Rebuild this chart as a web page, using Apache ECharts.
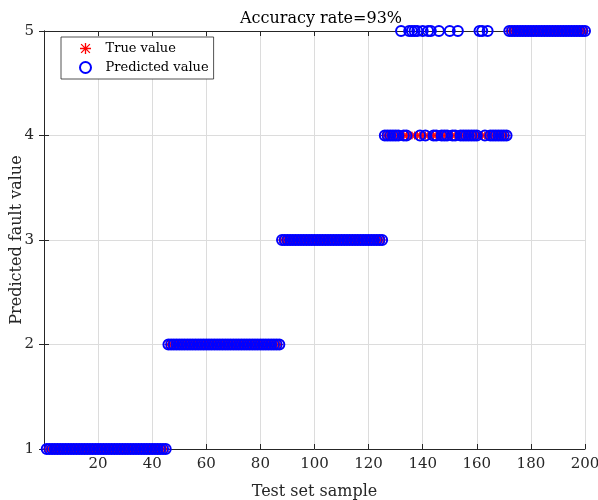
<!DOCTYPE html>
<html>
<head>
<meta charset="utf-8">
<script src="https://cdn.jsdelivr.net/npm/echarts@6/dist/echarts.min.js"></script>
<style>
  html, body { margin: 0; padding: 0; background: #fff; }
  #chart { width: 598px; height: 500px; }
</style>
</head>
<body>
<div id="chart"></div>
<script>
// ── Data ──────────────────────────────────────────────────────────────────
// true class of each test sample, as runs: [first sample, last sample, class]
const trueRuns = [
  [1, 45, 1],
  [46, 87, 2],
  [88, 125, 3],
  [126, 171, 4],
  [172, 200, 5],
];
// samples the classifier got wrong and what it predicted for them
const wrongSamples = [132, 135, 136, 137, 138, 140, 142, 143, 146, 150, 153, 161, 162, 164];
const wrongPred    = [5, 5, 5, 5, 5, 5, 5, 5, 5, 5, 5, 5, 5, 5];

const FONT = '"DejaVu Serif", "Liberation Serif", serif';
const AXIS_COLOR = '#262626';

// ── Build series ──────────────────────────────────────────────────────────
const trueData = [];
trueRuns.forEach(([a, b, c]) => {
  for (let s = a; s <= b; s++) trueData.push([s, c]);
});
const predData = trueData.map(([s, c]) => {
  const k = wrongSamples.indexOf(s);
  return [s, k >= 0 ? wrongPred[k] : c];
});

// asterisk made of four thin bars
const ASTERISK = 'path://M4.4 0H5.6V10H4.4Z M0 4.4H10V5.6H0Z M0.6 1.4L1.4 0.6L9.4 8.6L8.6 9.4Z M8.6 0.6L9.4 1.4L1.4 9.4L0.6 8.6Z';

const chart = echarts.init(document.getElementById('chart'));

const xBase = {
  type: 'value', min: 0, max: 200, interval: 20,
  axisLine: { show: true, lineStyle: { color: AXIS_COLOR, width: 1 } },
  axisTick: { show: true, inside: true, length: 5, lineStyle: { color: AXIS_COLOR } },
};
const yBase = {
  type: 'value', min: 1, max: 5, interval: 1,
  axisLine: { show: true, lineStyle: { color: AXIS_COLOR, width: 1 } },
  axisTick: { show: true, inside: true, length: 5, lineStyle: { color: AXIS_COLOR } },
};

chart.setOption({
  animation: false,
  title: {
    text: 'Accuracy rate=93%',
    left: 316, top: 6, textAlign: 'center',
    textStyle: { fontFamily: FONT, fontSize: 16, fontWeight: 'normal', color: '#000' },
  },
  grid: { left: 44, right: 13, top: 31, bottom: 51, show: false, containLabel: false, outerBoundsMode: 'none' },
  legend: {
    orient: 'vertical',
    left: 61, top: 37,
    padding: [5, 5, 5, 18],
    itemGap: 6,
    itemWidth: 12, itemHeight: 11,
    backgroundColor: '#fff',
    borderColor: AXIS_COLOR, borderWidth: 0.8,
    textStyle: { fontFamily: FONT, fontSize: 13, color: '#000', padding: [0, 0, 0, 9] },
    data: [
      { name: 'True value', icon: ASTERISK, itemStyle: { color: '#ff0000' } },
      { name: 'Predicted value', icon: 'circle', itemStyle: { color: 'transparent', borderColor: '#0000ff', borderWidth: 2 } },
    ],
  },
  xAxis: [
    Object.assign({}, xBase, {
      position: 'bottom',
      name: 'Test set sample', nameLocation: 'middle', nameGap: 35, nameMoveOverlap: false,
      nameTextStyle: { fontFamily: FONT, fontSize: 16, color: AXIS_COLOR },
      axisLabel: { showMinLabel: false, margin: 8, fontFamily: FONT, fontSize: 15, color: AXIS_COLOR },
      splitLine: { show: true, lineStyle: { color: '#dcdcdc', width: 1 } },
    }),
    Object.assign({}, xBase, {
      position: 'top',
      axisLabel: { show: false },
      splitLine: { show: false },
    }),
  ],
  yAxis: [
    Object.assign({}, yBase, {
      position: 'left',
      name: 'Predicted fault value', nameLocation: 'middle', nameGap: 19, nameMoveOverlap: false,
      nameTextStyle: { fontFamily: FONT, fontSize: 16, color: AXIS_COLOR },
      axisLabel: { margin: 10, fontFamily: FONT, fontSize: 15, color: AXIS_COLOR },
      splitLine: { show: true, lineStyle: { color: '#dcdcdc', width: 1 } },
    }),
    Object.assign({}, yBase, {
      position: 'right',
      axisLabel: { show: false },
      splitLine: { show: false },
    }),
  ],
  series: [
    {
      name: 'True value', type: 'scatter',
      data: trueData,
      symbol: ASTERISK, symbolSize: 8,
      itemStyle: { color: '#ff0000', opacity: 1 },
      z: 2,
    },
    {
      name: 'Predicted value', type: 'scatter',
      data: predData,
      symbol: 'circle', symbolSize: 10,
      itemStyle: { color: 'transparent', borderColor: '#0000ff', borderWidth: 2, opacity: 1 },
      z: 3,
    },
  ],
});
</script>
</body>
</html>
